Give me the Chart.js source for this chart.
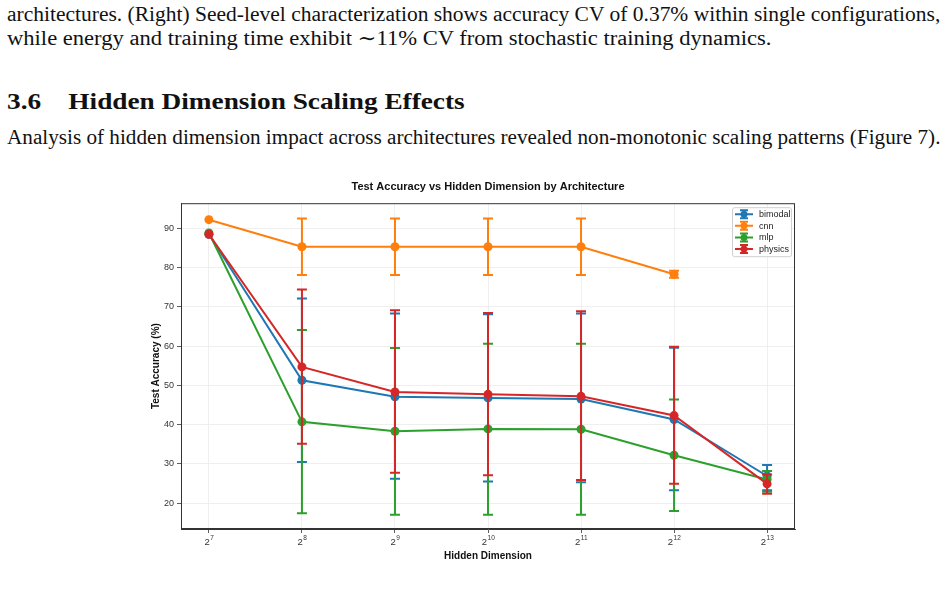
<!DOCTYPE html>
<html>
<head>
<meta charset="utf-8">
<script src="https://cdn.jsdelivr.net/npm/chart.js@4.4.0/dist/chart.umd.min.js"></script>
<style>
  html, body { margin: 0; padding: 0; background: #fff; }
  body { width: 946px; height: 589px; position: relative; overflow: hidden; }
  #chart { position: absolute; left: 0; top: 0; }
  .txt {
    position: absolute; left: 7px; white-space: nowrap;
    font-family: "Liberation Serif", "DejaVu Serif", serif; color: #111;
    transform-origin: left center;
  }
  .body { font-size: 20px; line-height: 24px; }
  .head { font-size: 24px; line-height: 28px; font-weight: bold; }
</style>
</head>
<body>
<div class="txt body fit" data-w="933" style="top:2px">architectures. (Right) Seed-level characterization shows accuracy CV of 0.37% within single configurations,</div>
<div class="txt body fit" data-w="764" style="top:26px">while energy and training time exhibit ∼11% CV from stochastic training dynamics.</div>
<div class="txt head fit" data-w="458" style="top:87px">3.6&nbsp;&nbsp;&nbsp;&nbsp;Hidden Dimension Scaling Effects</div>
<div class="txt body fit" data-w="933" style="top:125px">Analysis of hidden dimension impact across architectures revealed non-monotonic scaling patterns (Figure 7).</div>
<canvas id="chart" width="946" height="589"></canvas>
<script>
document.querySelectorAll('.fit').forEach(el => {
  const w = el.scrollWidth;
  el.style.transform = `scaleX(${el.dataset.w / w})`;
});

// hidden dimensions (x) and tick labels (base and exponent)
const hiddenDims = [128, 256, 512, 1024, 2048, 4096, 8192];
const xTickBase = '2';
const xTickExponents = ['7', '8', '9', '10', '11', '12', '13'];
const yTicks = [20, 30, 40, 50, 60, 70, 80, 90];

// mean test accuracy (%) and error bar ends per architecture
const bimodalAcc = [88.5, 51.3, 47.1, 46.8, 46.5, 41.3, 26.9];
const bimodalHi  = [88.5, 72.1, 68.3, 68.1, 68.3, 59.6, 29.7];
const bimodalLo  = [88.5, 30.5, 26.2, 25.5, 25.3, 23.3, 23.3];

const cnnAcc = [92.2, 85.3, 85.3, 85.3, 85.3, 78.3, null];
const cnnHi  = [92.2, 92.5, 92.5, 92.5, 92.5, 79.2, null];
const cnnLo  = [92.2, 78.1, 78.1, 78.1, 78.1, 77.4, null];

const mlpAcc = [88.8, 40.7, 38.3, 38.9, 38.8, 32.2, 26.0];
const mlpHi  = [88.8, 64.1, 59.5, 60.6, 60.6, 46.4, 28.2];
const mlpLo  = [88.8, 17.4, 17.0, 17.0, 17.0, 18.0, 22.9];

const physicsAcc = [88.5, 54.7, 48.3, 47.7, 47.2, 42.3, 24.9];
const physicsHi  = [88.5, 74.4, 69.1, 68.4, 68.9, 59.8, 27.3];
const physicsLo  = [88.5, 35.1, 27.7, 27.1, 25.9, 24.9, 22.4];

const series = [
  { label: 'bimodal', color: '#1f77b4', acc: bimodalAcc, hi: bimodalHi, lo: bimodalLo, order: 4 },
  { label: 'cnn', color: '#ff7f0e', acc: cnnAcc, hi: cnnHi, lo: cnnLo, order: 3 },
  { label: 'mlp', color: '#2ca02c', acc: mlpAcc, hi: mlpHi, lo: mlpLo, order: 2 },
  { label: 'physics', color: '#d62728', acc: physicsAcc, hi: physicsHi, lo: physicsLo, order: 1 }
];

const sans = '"Liberation Sans", Arial, sans-serif';

function points(arr) {
  const out = [];
  arr.forEach((v, i) => { if (v !== null) out.push({ x: hiddenDims[i], y: v }); });
  return out;
}

// draws each dataset's error bars just before its line
const errorBars = {
  id: 'errorBars',
  beforeDatasetDraw(chart, args) {
    const ds = chart.data.datasets[args.index];
    const yScale = chart.scales.y;
    const ctx = chart.ctx;
    ctx.save();
    ctx.strokeStyle = ds.borderColor;
    ctx.lineWidth = 2;
    args.meta.data.forEach((pt, i) => {
      const hi = ds.errHi[i], lo = ds.errLo[i];
      if (hi === lo) return;
      const yh = yScale.getPixelForValue(hi);
      const yl = yScale.getPixelForValue(lo);
      ctx.beginPath();
      ctx.moveTo(pt.x, yh); ctx.lineTo(pt.x, yl);
      ctx.moveTo(pt.x - 5, yh); ctx.lineTo(pt.x + 5, yh);
      ctx.moveTo(pt.x - 5, yl); ctx.lineTo(pt.x + 5, yl);
      ctx.stroke();
    });
    ctx.restore();
  }
};

// frame, 2^n tick labels and the legend box
const frameAndLegend = {
  id: 'frameAndLegend',
  afterDraw(chart) {
    const ctx = chart.ctx;
    const ca = chart.chartArea;
    ctx.save();
    ctx.strokeStyle = '#333';
    ctx.lineWidth = 1;
    ctx.strokeRect(ca.left + 0.5, ca.top + 0.5, ca.right - ca.left - 1, ca.bottom - ca.top - 1);

    const xs = chart.scales.x;
    ctx.fillStyle = '#333';
    ctx.textBaseline = 'alphabetic';
    hiddenDims.forEach((d, i) => {
      const px = xs.getPixelForValue(d);
      ctx.font = '9.5px ' + sans;
      const bw = ctx.measureText(xTickBase).width;
      ctx.font = '6.5px ' + sans;
      const ew = ctx.measureText(xTickExponents[i]).width;
      const left = px - (bw + ew) / 2;
      ctx.font = '9.5px ' + sans;
      ctx.textAlign = 'left';
      ctx.fillText(xTickBase, left, ca.bottom + 16);
      ctx.font = '6.5px ' + sans;
      ctx.fillText(xTickExponents[i], left + bw + 0.5, ca.bottom + 11);
    });

    const w = 59, h = 49;
    const x0 = ca.right - 4 - w, y0 = ca.top + 4;
    ctx.fillStyle = 'rgba(255,255,255,0.85)';
    ctx.strokeStyle = '#d0d0d0';
    ctx.beginPath();
    ctx.roundRect(x0 + 0.5, y0 + 0.5, w, h, 2);
    ctx.fill();
    ctx.stroke();

    ctx.font = '9px ' + sans;
    ctx.textBaseline = 'middle';
    chart.data.datasets.forEach((ds, i) => {
      const cy = y0 + 7 + i * 11.6;
      const cx = x0 + 12;
      ctx.strokeStyle = ds.borderColor;
      ctx.fillStyle = ds.borderColor;
      ctx.lineWidth = 2;
      ctx.beginPath();
      ctx.moveTo(cx - 9, cy); ctx.lineTo(cx + 9, cy);
      ctx.moveTo(cx, cy - 4); ctx.lineTo(cx, cy + 4);
      ctx.moveTo(cx - 4, cy - 4); ctx.lineTo(cx + 4, cy - 4);
      ctx.moveTo(cx - 4, cy + 4); ctx.lineTo(cx + 4, cy + 4);
      ctx.stroke();
      ctx.beginPath();
      ctx.arc(cx, cy, 3.5, 0, Math.PI * 2);
      ctx.fill();
      ctx.fillStyle = '#222';
      ctx.fillText(ds.label, cx + 15, cy + 0.5);
    });
    ctx.restore();
  }
};

new Chart(document.getElementById('chart'), {
  type: 'line',
  data: {
    datasets: series.map(s => ({
      label: s.label,
      data: points(s.acc),
      errHi: s.hi.filter(v => v !== null),
      errLo: s.lo.filter(v => v !== null),
      borderColor: s.color,
      backgroundColor: s.color,
      borderWidth: 2,
      pointRadius: 4.5,
      pointBorderWidth: 0,
      pointBackgroundColor: s.color,
      tension: 0,
      order: s.order
    }))
  },
  options: {
    responsive: false,
    animation: false,
    devicePixelRatio: 1,
    layout: { padding: { left: 140, top: 172, right: 151, bottom: 10 } },
    plugins: {
      legend: { display: false },
      tooltip: { enabled: false },
      title: {
        display: true,
        fullSize: false,
        text: 'Test Accuracy vs Hidden Dimension by Architecture',
        color: '#111',
        font: { family: sans, size: 11, weight: 'bold' },
        padding: { top: 8, bottom: 10 }
      }
    },
    scales: {
      x: {
        type: 'logarithmic',
        min: Math.pow(2, 6.7),
        max: Math.pow(2, 13.3),
        afterBuildTicks: scale => { scale.ticks = hiddenDims.map(v => ({ value: v })); },
        afterFit: scale => { scale.height = 50; },
        ticks: {
          autoSkip: false,
          maxRotation: 0,
          color: 'rgba(0,0,0,0)',
          padding: 3,
          font: { family: sans, size: 9 },
          callback: () => ''
        },
        grid: { color: '#ebebeb', lineWidth: 0.8, tickColor: '#333', tickLength: 4 },
        border: { color: '#333', width: 1 },
        title: {
          display: true,
          text: 'Hidden Dimension',
          color: '#111',
          font: { family: sans, size: 10, weight: 'bold' },
          padding: { top: 0, bottom: 17 }
        }
      },
      y: {
        min: 13.4,
        max: 96.4,
        afterBuildTicks: scale => { scale.ticks = yTicks.map(v => ({ value: v })); },
        afterFit: scale => { scale.width = 41; },
        ticks: {
          color: '#333',
          padding: 3,
          font: { family: sans, size: 9 }
        },
        grid: { color: '#ebebeb', lineWidth: 0.8, tickColor: '#333', tickLength: 4 },
        border: { color: '#333', width: 1 },
        title: {
          display: true,
          text: 'Test Accuracy (%)',
          color: '#111',
          font: { family: sans, size: 10, weight: 'bold' },
          padding: { top: 10, bottom: 0 }
        }
      }
    }
  },
  plugins: [errorBars, frameAndLegend]
});
</script>
</body>
</html>
